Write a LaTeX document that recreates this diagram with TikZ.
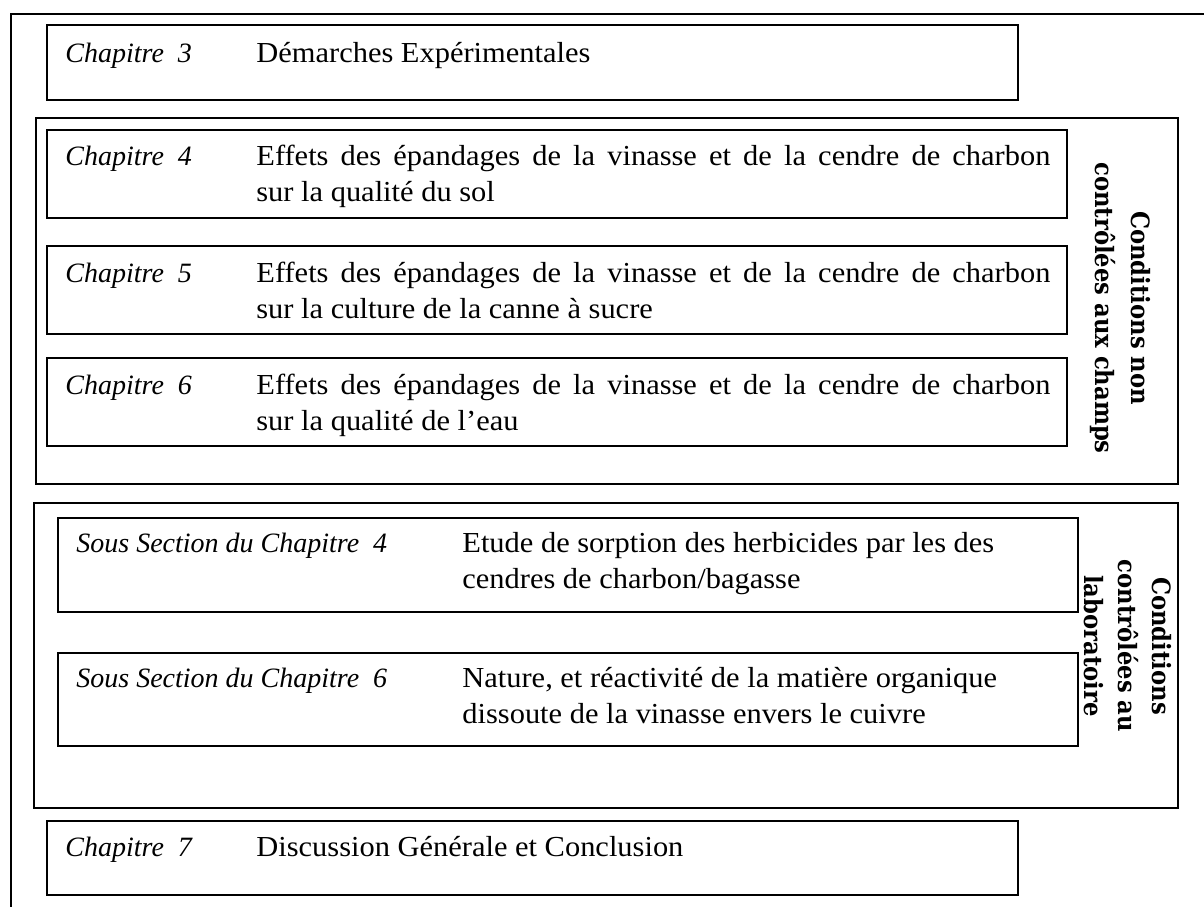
\documentclass[tikz,border=0pt]{standalone}
\usepackage{fontspec}
\setmainfont{Liberation Serif}
\newfontfamily\bodyfont{Liberation Serif}[FakeStretch=1.05]
\newfontfamily\labfont{DejaVu Serif}[FakeStretch=0.9]
\newcommand{\justline}[1]{\makebox[397pt][s]{#1}}
\begin{document}
\begin{tikzpicture}[x=0.5pt,y=-0.5pt,
  frame/.style={draw, line width=0.9pt},
  chap/.style={anchor=base west, inner sep=0pt, font=\itshape\fontsize{14}{18}\selectfont},
  txt/.style={anchor=base west, inner sep=0pt, font=\bodyfont\fontsize{14.5}{18}\selectfont},
  side/.style={rotate=-90, align=center, inner sep=0pt, font=\labfont\bfseries\fontsize{12.6}{18}\selectfont}]
\useasboundingbox (0,0) rectangle (1204,906);
% outer frame (only left and top edges visible)
\coordinate (o1) at (11,920);
\coordinate (o2) at (11,14);
\coordinate (o3) at (1220,14);
\draw[frame] (o1) -- (o2) -- (o3);
% Chapitre 3
\draw[frame] (47,25) rectangle (1018,100);
\node[chap] (c3a) at (65,62) {Chapitre\ \ 3};
\node[txt] (c3b) at (256,62) {Démarches Expérimentales};
% Group 1
\draw[frame] (36,118) rectangle (1178,484);
\draw[frame] (47,130) rectangle (1067,218);
\node[chap] (c4a) at (65,165) {Chapitre\ \ 4};
\node[txt] (c4b) at (256,165) {\justline{Effets des épandages de la vinasse et de la cendre de charbon}};
\node[txt] (c4c) at (256,201) {sur la qualité du sol};
\draw[frame] (47,246) rectangle (1067,334);
\node[chap] (c5a) at (65,282) {Chapitre\ \ 5};
\node[txt] (c5b) at (256,282) {\justline{Effets des épandages de la vinasse et de la cendre de charbon}};
\node[txt] (c5c) at (256,318) {sur la culture de la canne à sucre};
\draw[frame] (47,358) rectangle (1067,446);
\node[chap] (c6a) at (65,394) {Chapitre\ \ 6};
\node[txt] (c6b) at (256,394) {\justline{Effets des épandages de la vinasse et de la cendre de charbon}};
\node[txt] (c6c) at (256,430) {sur la qualité de l’eau};
\node[side] (g1) at (1120,308) {Conditions non\\contrôlées aux champs};
% Group 2
\draw[frame] (34,503) rectangle (1178,808);
\draw[frame] (58,518) rectangle (1078,612);
\node[chap] (s4a) at (76,552) {Sous Section du Chapitre\ \ 4};
\node[txt] (s4b) at (462,552) {Etude de sorption des herbicides par les des};
\node[txt] (s4c) at (462,588) {cendres de charbon/bagasse};
\draw[frame] (58,653) rectangle (1078,746);
\node[chap] (s6a) at (76,687) {Sous Section du Chapitre\ \ 6};
\node[txt] (s6b) at (462,687) {Nature, et réactivité de la matière organique};
\node[txt] (s6c) at (462,723) {dissoute de la vinasse envers le cuivre};
\node[side, font=\labfont\bfseries\fontsize{12.6}{17}\selectfont] (g2) at (1128,646) {Conditions\\contrôlées au\\laboratoire};
% Chapitre 7
\draw[frame] (47,821) rectangle (1018,895);
\node[chap] (c7a) at (65,856) {Chapitre\ \ 7};
\node[txt] (c7b) at (256,856) {Discussion Générale et Conclusion};
\end{tikzpicture}
\end{document}
